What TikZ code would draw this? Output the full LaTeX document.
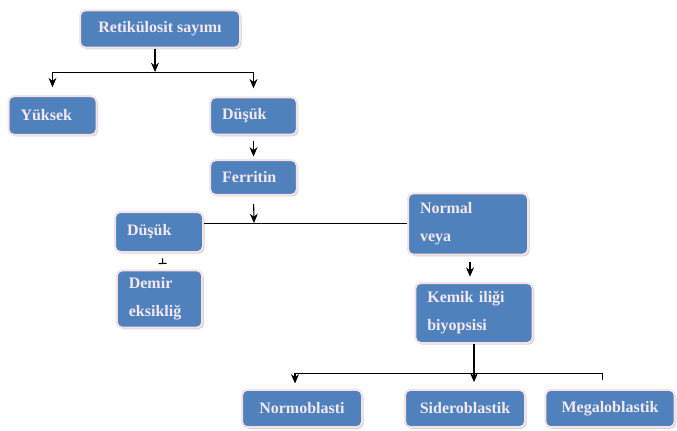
\documentclass[tikz,border=0pt]{standalone}
\usepackage{fontspec}
\setmainfont{Liberation Serif}
\usetikzlibrary{shadows,arrows.meta}

\definecolor{boxblue}{RGB}{79,129,189}
\definecolor{boxrim}{RGB}{246,226,230}
\definecolor{boxtext}{RGB}{243,232,240}

\tikzset{every picture/.style={line width=0.5pt}}
\tikzset{
  box/.style={fill=boxblue, draw=boxrim, line width=1.5pt, rounded corners=4pt,
    drop shadow={shadow xshift=1.2pt, shadow yshift=-1.2pt, fill=black!35, opacity=0.5},
    text=boxtext, font=\bfseries\fontsize{12}{21}\selectfont,
    align=left, inner xsep=9pt, anchor=center},
  arr/.style={-{Stealth[length=7pt,width=6pt]}, line width=0.8pt},
  tbar/.style={-{Bar[width=6pt]}, line width=0.8pt},
}

\begin{document}
\begin{tikzpicture}[x=0.75pt,y=0.75pt,yscale=-1,xscale=1]
\useasboundingbox (0,0) rectangle (677,431);

% Text Node
\node (ret) at (160,29) [box, minimum width=120pt, minimum height=28pt, align=center] {Retikülosit sayımı};
% Text Node
\node (yuksek) at (52.5,115.5) [box, minimum width=66pt, minimum height=29pt, text width=48pt] {Yüksek};
% Text Node
\node (dusukA) at (253.5,116) [box, minimum width=65pt, minimum height=28pt, text width=47pt] {Düşük};
% Text Node
\node (ferritin) at (253.5,177.5) [box, minimum width=65pt, minimum height=26pt, text width=47pt] {Ferritin};
% Text Node
\node (dusukB) at (159,232) [box, minimum width=66pt, minimum height=30pt, text width=48pt] {Düşük};
% Text Node
\node (normal) at (468,224) [box, minimum width=90pt, minimum height=46pt, text width=72pt] {Normal\\veya};
% Text Node
\node (demir) at (159.5,299) [box, minimum width=64pt, minimum height=43pt, text width=46pt] {Demir\\eksikliğ};
% Text Node
\node (kemik) at (474,313) [box, minimum width=88pt, minimum height=45pt, text width=70pt] {Kemik iliği\\biyopsisi};
% Text Node
\node (normo) at (302,408.5) [box, minimum width=90pt, minimum height=28pt, align=center] {Normoblasti};
% Text Node
\node (sidero) at (465,408.5) [box, minimum width=90pt, minimum height=28pt, align=center] {Sideroblastik};
% Text Node
\node (mega) at (610,408.5) [box, minimum width=97pt, minimum height=28pt, align=center] {Megaloblastik};

% split points
\coordinate (splitA) at (155,72);
\coordinate (splitB) at (254,223);
\coordinate (splitC) at (475,373);

%Straight Lines
\draw [arr] (ret.south -| splitA) -- (splitA);
\draw (yuksek.north |- splitA) -- (dusukA.north |- splitA);
\draw [arr, shorten >=6pt] (yuksek.north |- splitA) -- (yuksek.north);
\draw [arr, shorten >=6pt] (dusukA.north |- splitA) -- (dusukA.north);
\draw [arr, shorten <=4pt, shorten >=2pt] (dusukA.south) -- (ferritin.north);
%Straight Lines
\draw [arr, shorten <=6pt] (ferritin.south) -- (splitB);
\draw (dusukB.east |- splitB) -- (normal.west |- splitB);
\draw [tbar, shorten <=4pt, shorten >=4pt] ([xshift=2.5pt]dusukB.south) -- ([xshift=2.5pt]demir.north);
\draw [arr, shorten <=5pt, shorten >=4pt] ([xshift=1.5pt]normal.south) -- ([xshift=1.5pt]normal.south |- kemik.north);
%Straight Lines
\draw [arr, line width=1pt, shorten >=5pt] (kemik.south) -- (kemik.south |- sidero.north);
\draw (295,373) coordinate (splitL) -- (602,373) coordinate (splitR);
\draw [arr, shorten >=4pt] (splitL) -- (splitL |- normo.north);
\draw [shorten >=7pt] (splitR) -- (splitR |- mega.north);
\end{tikzpicture}
\end{document}
